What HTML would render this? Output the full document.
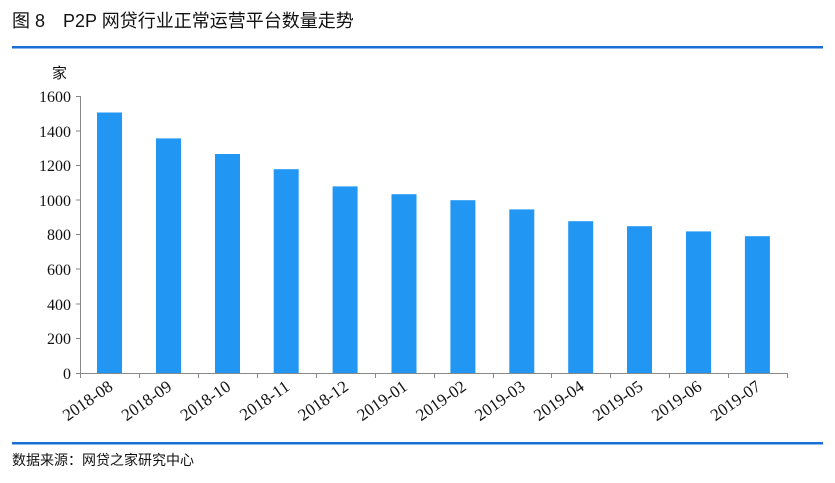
<!DOCTYPE html>
<html><head><meta charset="utf-8"><style>
body{margin:0;background:#fff;}
svg{display:block}
</style></head><body>
<svg width="835" height="483" xmlns="http://www.w3.org/2000/svg">
<text x="12" y="27" font-family="'Liberation Sans','Noto Sans CJK SC',sans-serif" font-size="18" fill="#111">图 8　P2P 网贷行业正常运营平台数量走势</text>
<rect x="12" y="46" width="811" height="2.5" fill="#1a6fd4"/>
<text x="52" y="78" font-family="'Noto Sans CJK SC',sans-serif" font-size="15" fill="#111">家</text>
<g font-family="'Liberation Serif',serif" font-size="16" fill="#111" text-anchor="end">
<text x="71" y="102">1600</text><text x="71" y="137">1400</text><text x="71" y="171">1200</text>
<text x="71" y="206">1000</text><text x="71" y="240">800</text><text x="71" y="275">600</text>
<text x="71" y="310">400</text><text x="71" y="344">200</text><text x="71" y="379">0</text>
</g>
<g stroke="#888" stroke-width="1" fill="none">
<line x1="80.5" y1="96" x2="80.5" y2="373"/>
<line x1="80" y1="373.5" x2="787" y2="373.5"/>
<line x1="76" y1="96.5" x2="80" y2="96.5"/><line x1="76" y1="131" x2="80" y2="131"/>
<line x1="76" y1="165.5" x2="80" y2="165.5"/><line x1="76" y1="200" x2="80" y2="200"/>
<line x1="76" y1="234.5" x2="80" y2="234.5"/><line x1="76" y1="269" x2="80" y2="269"/>
<line x1="76" y1="304" x2="80" y2="304"/><line x1="76" y1="338.5" x2="80" y2="338.5"/>
<line x1="76" y1="373.5" x2="80" y2="373.5"/>
<line x1="80.5" y1="373" x2="80.5" y2="378"/><line x1="139.5" y1="373" x2="139.5" y2="378"/>
<line x1="198.5" y1="373" x2="198.5" y2="378"/><line x1="257.5" y1="373" x2="257.5" y2="378"/>
<line x1="316.5" y1="373" x2="316.5" y2="378"/><line x1="375.5" y1="373" x2="375.5" y2="378"/>
<line x1="434.5" y1="373" x2="434.5" y2="378"/><line x1="493.5" y1="373" x2="493.5" y2="378"/>
<line x1="551.5" y1="373" x2="551.5" y2="378"/><line x1="610.5" y1="373" x2="610.5" y2="378"/>
<line x1="669.5" y1="373" x2="669.5" y2="378"/><line x1="728.5" y1="373" x2="728.5" y2="378"/>
<line x1="787.5" y1="373" x2="787.5" y2="378"/>
</g>
<g fill="#2196f3">
<rect x="97" y="112.5" width="25" height="260.5"/>
<rect x="156" y="138.4" width="25" height="234.6"/>
<rect x="215" y="154" width="25" height="219"/>
<rect x="273.7" y="169.2" width="25" height="203.8"/>
<rect x="332.6" y="186.4" width="25" height="186.6"/>
<rect x="391.5" y="194.2" width="25" height="178.8"/>
<rect x="450.4" y="200.2" width="25" height="172.8"/>
<rect x="509.3" y="209.4" width="25" height="163.6"/>
<rect x="568.2" y="221.2" width="25" height="151.8"/>
<rect x="627" y="226.2" width="25" height="146.8"/>
<rect x="686" y="231.4" width="25" height="141.6"/>
<rect x="744.9" y="236.2" width="25" height="136.8"/>
</g>
<g font-family="'Liberation Serif',serif" font-size="17" fill="#111" text-anchor="end">
<text transform="translate(114,389) rotate(-35)">2018-08</text>
<text transform="translate(172.9,389) rotate(-35)">2018-09</text>
<text transform="translate(231.8,389) rotate(-35)">2018-10</text>
<text transform="translate(290.7,389) rotate(-35)">2018-11</text>
<text transform="translate(349.6,389) rotate(-35)">2018-12</text>
<text transform="translate(408.5,389) rotate(-35)">2019-01</text>
<text transform="translate(467.4,389) rotate(-35)">2019-02</text>
<text transform="translate(526.3,389) rotate(-35)">2019-03</text>
<text transform="translate(585.2,389) rotate(-35)">2019-04</text>
<text transform="translate(644.1,389) rotate(-35)">2019-05</text>
<text transform="translate(703,389) rotate(-35)">2019-06</text>
<text transform="translate(761.9,389) rotate(-35)">2019-07</text>
</g>
<rect x="12" y="442" width="811" height="2.5" fill="#1a6fd4"/>
<text x="12" y="465" font-family="'Liberation Sans','Noto Sans CJK SC',sans-serif" font-size="14" fill="#111">数据来源：网贷之家研究中心</text>
</svg>
</body></html>
